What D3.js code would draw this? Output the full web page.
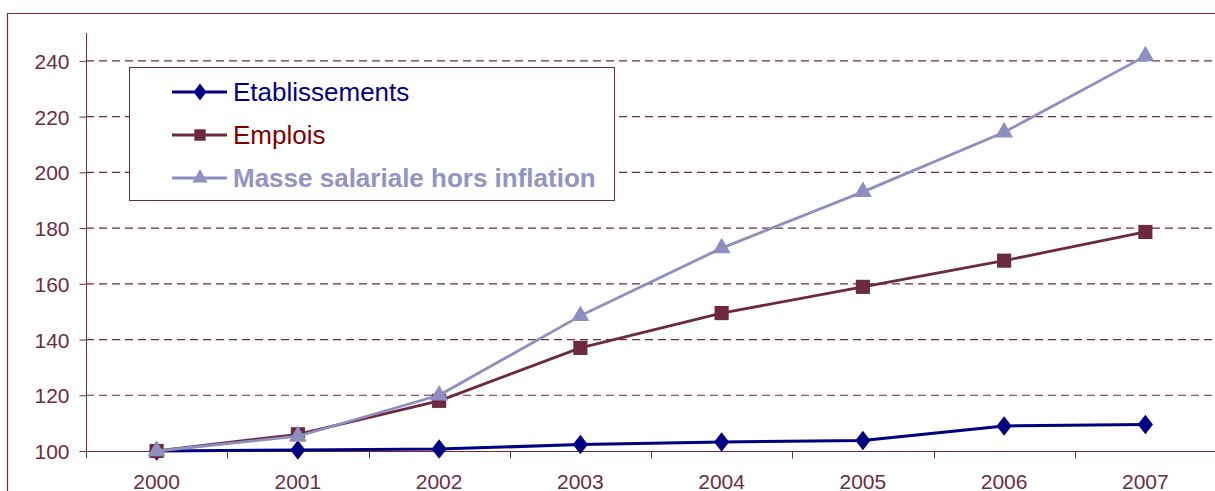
<!DOCTYPE html>
<html>
<head>
<meta charset="utf-8">
<script src="https://cdn.jsdelivr.net/npm/d3@7"></script>
<style>
  body { margin: 0; background: #fff; }
  svg { display: block; font-family: "Liberation Sans", Arial, sans-serif; }
  .axis text { fill: #6E2B42; font-size: 21px; }
</style>
</head>
<body>
<div id="chart"></div>
<script>
// data
const years = ["2000", "2001", "2002", "2003", "2004", "2005", "2006", "2007"];
const etablissements = [100, 100.4, 100.7, 102.3, 103.2, 103.8, 109.0, 109.5];
const emplois = [100, 106.0, 118.0, 137.0, 149.5, 158.9, 168.3, 178.6];
const masseSalariale = [100, 105.3, 120.0, 148.5, 172.8, 193.0, 214.4, 241.7];
const yTicks = [100, 120, 140, 160, 180, 200, 220, 240];

const W = 1215, H = 491;
const margin = { left: 86, top: 33, right: 0, bottom: 40 };
const axisColor = "#6E2B42";

const svg = d3.select("#chart").append("svg")
    .attr("width", W)
    .attr("height", H);

// outer chart frame (partly cut off)
svg.append("path")
    .attr("d", "M7.5," + H + "V13.5H" + W)
    .attr("fill", "none")
    .attr("stroke", axisColor)
    .attr("stroke-width", 1.2);

const x = d3.scaleBand().domain(years).range([margin.left, W + 1]).padding(0);
const y = d3.scaleLinear().domain([100, 250]).range([451, margin.top]);
const xc = d => x(d) + x.bandwidth() / 2;

// gridlines
svg.append("g")
    .selectAll("line")
    .data(yTicks.filter(v => v > 100))
    .enter().append("line")
    .attr("x1", margin.left)
    .attr("x2", W)
    .attr("y1", d => y(d))
    .attr("y2", d => y(d))
    .attr("stroke", axisColor)
    .attr("stroke-width", 1.2)
    .attr("stroke-dasharray", "8,5");

// y axis
const yAxis = d3.axisLeft(y).tickValues(yTicks).tickSize(7).tickPadding(10);
const gy = svg.append("g")
    .attr("class", "axis")
    .attr("transform", "translate(" + (margin.left + 0.5) + ",0)")
    .call(yAxis);
gy.select(".domain").remove();
gy.append("line")
    .attr("x1", 0).attr("x2", 0)
    .attr("y1", margin.top).attr("y2", 458)
    .attr("stroke", axisColor);
gy.selectAll(".tick line").attr("stroke", axisColor);
gy.selectAll(".tick text").attr("fill", axisColor).attr("dy", "0.36em");

// x axis
const gx = svg.append("g")
    .attr("class", "axis")
    .attr("transform", "translate(0," + (y(100) + 0.5) + ")");
gx.append("line")
    .attr("x1", margin.left).attr("x2", W)
    .attr("stroke", axisColor);
gx.selectAll("line.tk")
    .data(years.slice(1))
    .enter().append("line")
    .attr("class", "tk")
    .attr("x1", d => Math.round(x(d)) + 0.5)
    .attr("x2", d => Math.round(x(d)) + 0.5)
    .attr("y1", 0).attr("y2", 7)
    .attr("stroke", axisColor);
gx.selectAll("text")
    .data(years)
    .enter().append("text")
    .attr("x", d => xc(d))
    .attr("y", 37)
    .attr("text-anchor", "middle")
    .attr("fill", axisColor)
    .text(d => d);

// series
const series = [
    { name: "Etablissements", values: etablissements, color: "#000080", text: "#000080", width: 3, shape: d3.symbolDiamond, size: 110, legSize: 85, bold: false },
    { name: "Emplois", values: emplois, color: "#6B2A42", text: "#800000", width: 2.8, shape: d3.symbolSquare, size: 200, legSize: 130, bold: false },
    { name: "Masse salariale hors inflation", values: masseSalariale, color: "#8F8FBF", text: "#9494C4", width: 2.8, shape: d3.symbolTriangle, size: 140, legSize: 100, bold: true }
];

const line = d3.line()
    .x((d, i) => xc(years[i]))
    .y(d => y(d));

series.forEach(s => {
    const g = svg.append("g");
    g.append("path")
        .datum(s.values)
        .attr("d", line)
        .attr("fill", "none")
        .attr("stroke", s.color)
        .attr("stroke-width", s.width)
        .attr("stroke-linejoin", "round");
    g.selectAll("path.pt")
        .data(s.values)
        .enter().append("path")
        .attr("class", "pt")
        .attr("d", d3.symbol().type(s.shape).size(s.size))
        .attr("transform", (d, i) => "translate(" + xc(years[i]) + "," + y(d) + ")" + (s.shape === d3.symbolDiamond ? " scale(1.35,1)" : ""))
        .attr("fill", s.color);
});

// legend
const legend = svg.append("g");
legend.append("rect")
    .attr("x", 129.5).attr("y", 67.5)
    .attr("width", 485).attr("height", 133)
    .attr("fill", "#fff")
    .attr("stroke", axisColor)
    .attr("stroke-width", 1);

const rowY = [92, 135, 178];
series.forEach((s, i) => {
    const g = legend.append("g").attr("transform", "translate(0," + rowY[i] + ")");
    g.append("line")
        .attr("x1", 172).attr("x2", 227)
        .attr("stroke", s.color)
        .attr("stroke-width", s.width);
    g.append("path")
        .attr("d", d3.symbol().type(s.shape).size(s.legSize))
        .attr("transform", "translate(200,0)" + (s.shape === d3.symbolDiamond ? " scale(1.3,1)" : ""))
        .attr("fill", s.color);
    g.append("text")
        .attr("x", 233)
        .attr("y", 0)
        .attr("dy", "0.36em")
        .attr("font-size", "26px")
        .attr("font-weight", s.bold ? "bold" : "normal")
        .attr("fill", s.text)
        .text(s.name);
});
</script>
</body>
</html>
